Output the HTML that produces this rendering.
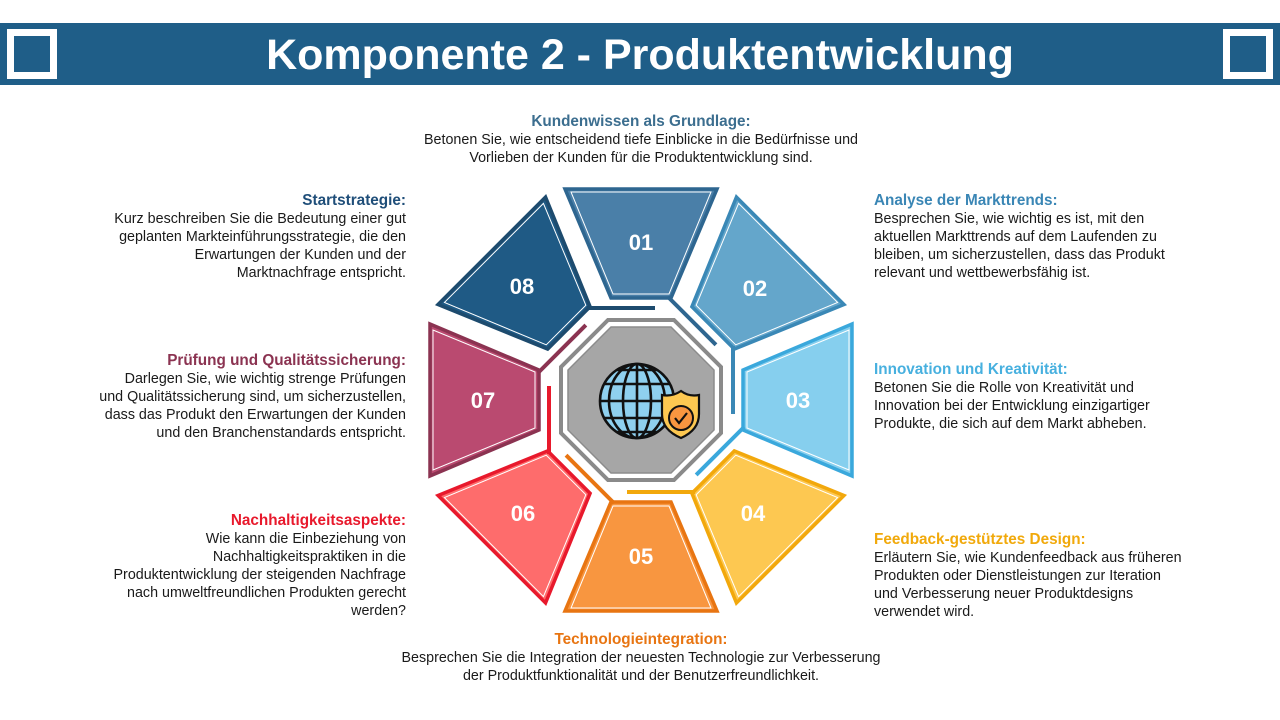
<!DOCTYPE html>
<html><head><meta charset="utf-8"><style>
body{margin:0;width:1280px;height:720px;background:#fff;position:relative;overflow:hidden;font-family:"Liberation Sans",sans-serif;}
.hdr{position:absolute;left:0;top:23px;width:1280px;height:62px;background:#1f5e88;}
.sq{position:absolute;top:29px;width:36px;height:36px;border:7px solid #fff;background:#1f5e88;}
.title{position:absolute;left:0;top:23px;width:1280px;height:62px;line-height:64px;text-align:center;color:#fff;font-weight:bold;font-size:43px;}
.t{position:absolute;font-size:14.3px;line-height:18px;color:#1a1a1a;white-space:nowrap;}
.t b{display:block;font-size:15.3px;}
.r{text-align:right;}
.c{text-align:center;}
</style></head><body>
<div class="hdr"></div>
<div class="sq" style="left:7px"></div>
<div class="sq" style="left:1223px"></div>
<div class="title">Komponente 2 - Produktentwicklung</div>

<svg width="1280" height="720" style="position:absolute;left:0;top:0">
<g transform="translate(641,400)" stroke-linejoin="miter">
<g transform="rotate(0)"><polygon points="-76,-211 76,-211 30,-102 -30,-102" fill="#4a7fa8" stroke="#2e6690" stroke-width="3.5"/><polygon points="-70,-208 70,-208 28,-106 -28,-106" fill="none" stroke="#fff" stroke-width="1"/><line x1="-54" y1="-92" x2="14" y2="-92" transform="rotate(45)" stroke="#2e6690" stroke-width="4"/></g>
<g transform="rotate(45)"><polygon points="-76,-211 76,-211 30,-102 -30,-102" fill="#64a6cb" stroke="#3a88b6" stroke-width="3.5"/><polygon points="-70,-208 70,-208 28,-106 -28,-106" fill="none" stroke="#fff" stroke-width="1"/><line x1="-54" y1="-92" x2="14" y2="-92" transform="rotate(45)" stroke="#3a88b6" stroke-width="4"/></g>
<g transform="rotate(90)"><polygon points="-76,-211 76,-211 30,-102 -30,-102" fill="#86cfee" stroke="#3aa8dc" stroke-width="3.5"/><polygon points="-70,-208 70,-208 28,-106 -28,-106" fill="none" stroke="#fff" stroke-width="1"/><line x1="-54" y1="-92" x2="14" y2="-92" transform="rotate(45)" stroke="#3aa8dc" stroke-width="4"/></g>
<g transform="rotate(135)"><polygon points="-76,-211 76,-211 30,-102 -30,-102" fill="#fdc851" stroke="#f2a80c" stroke-width="3.5"/><polygon points="-70,-208 70,-208 28,-106 -28,-106" fill="none" stroke="#fff" stroke-width="1"/><line x1="-54" y1="-92" x2="14" y2="-92" transform="rotate(45)" stroke="#f2a80c" stroke-width="4"/></g>
<g transform="rotate(180)"><polygon points="-76,-211 76,-211 30,-102 -30,-102" fill="#f89640" stroke="#e87512" stroke-width="3.5"/><polygon points="-70,-208 70,-208 28,-106 -28,-106" fill="none" stroke="#fff" stroke-width="1"/><line x1="-54" y1="-92" x2="14" y2="-92" transform="rotate(45)" stroke="#e87512" stroke-width="4"/></g>
<g transform="rotate(225)"><polygon points="-76,-211 76,-211 30,-102 -30,-102" fill="#fe6c6c" stroke="#e8192c" stroke-width="3.5"/><polygon points="-70,-208 70,-208 28,-106 -28,-106" fill="none" stroke="#fff" stroke-width="1"/><line x1="-54" y1="-92" x2="14" y2="-92" transform="rotate(45)" stroke="#e8192c" stroke-width="4"/></g>
<g transform="rotate(270)"><polygon points="-76,-211 76,-211 30,-102 -30,-102" fill="#ba4a70" stroke="#8b3351" stroke-width="3.5"/><polygon points="-70,-208 70,-208 28,-106 -28,-106" fill="none" stroke="#fff" stroke-width="1"/><line x1="-54" y1="-92" x2="14" y2="-92" transform="rotate(45)" stroke="#8b3351" stroke-width="4"/></g>
<g transform="rotate(315)"><polygon points="-76,-211 76,-211 30,-102 -30,-102" fill="#1f5a85" stroke="#1d4b6e" stroke-width="3.5"/><polygon points="-70,-208 70,-208 28,-106 -28,-106" fill="none" stroke="#fff" stroke-width="1"/><line x1="-54" y1="-92" x2="14" y2="-92" transform="rotate(45)" stroke="#1d4b6e" stroke-width="4"/></g>
<polygon points="-33,-80 33,-80 80,-33 80,33 33,80 -33,80 -80,33 -80,-33" fill="#fff" stroke="#8a8a8a" stroke-width="4"/>
<polygon points="-30,-73 30,-73 73,-30 73,30 30,73 -30,73 -73,30 -73,-30" fill="#a6a6a6" stroke="#8c8c8c" stroke-width="1.5"/>
<g transform="translate(-4,1)" stroke="#111" stroke-width="2.6" fill="none">
<circle r="37" fill="#8fd0ef"/>
<ellipse rx="14" ry="37"/>
<ellipse rx="28" ry="37"/>
<line x1="0" y1="-37" x2="0" y2="37"/>
<line x1="-37" y1="0" x2="37" y2="0"/>
<line x1="-33" y1="-17" x2="33" y2="-17"/>
<line x1="-33" y1="17" x2="33" y2="17"/>
<line x1="-20" y1="-31" x2="20" y2="-31"/>
<line x1="-20" y1="31" x2="20" y2="31"/>
</g>
<path d="M21,-5 Q31,-3 40,-9 Q48,-3 58,-5 L58,14 Q58,30 40,38 Q21,30 21,14 Z" fill="#fdc851" stroke="#111" stroke-width="2.2"/>
<circle cx="40" cy="18" r="12" fill="#f89640" stroke="#111" stroke-width="2"/>
<path d="M34,18 L38,23 L46,13" fill="none" stroke="#111" stroke-width="2.2"/>
</g>
<g font-family="Liberation Sans, sans-serif" font-weight="bold" font-size="22" fill="#fff" text-anchor="middle">
<text x="641" y="250">01</text>
<text x="755" y="296">02</text>
<text x="798" y="408">03</text>
<text x="753" y="521">04</text>
<text x="641" y="564">05</text>
<text x="523" y="521">06</text>
<text x="483" y="408">07</text>
<text x="522" y="294">08</text>
</g>
</svg>

<div class="t c" style="left:291px;width:700px;top:113px"><b style="color:#3c6e8f">Kundenwissen als Grundlage:</b>Betonen Sie, wie entscheidend tiefe Einblicke in die Bedürfnisse und<br>Vorlieben der Kunden für die Produktentwicklung sind.</div>
<div class="t r" style="right:874px;top:192px"><b style="color:#1f4e79">Startstrategie:</b>Kurz beschreiben Sie die Bedeutung einer gut<br>geplanten Markteinführungsstrategie, die den<br>Erwartungen der Kunden und der<br>Marktnachfrage entspricht.</div>
<div class="t" style="left:874px;top:192px"><b style="color:#3a86b5">Analyse der Markttrends:</b>Besprechen Sie, wie wichtig es ist, mit den<br>aktuellen Markttrends auf dem Laufenden zu<br>bleiben, um sicherzustellen, dass das Produkt<br>relevant und wettbewerbsfähig ist.</div>
<div class="t r" style="right:874px;top:352px"><b style="color:#8b3351">Prüfung und Qualitätssicherung:</b>Darlegen Sie, wie wichtig strenge Prüfungen<br>und Qualitätssicherung sind, um sicherzustellen,<br>dass das Produkt den Erwartungen der Kunden<br>und den Branchenstandards entspricht.</div>
<div class="t" style="left:874px;top:361px"><b style="color:#47b0df">Innovation und Kreativität:</b>Betonen Sie die Rolle von Kreativität und<br>Innovation bei der Entwicklung einzigartiger<br>Produkte, die sich auf dem Markt abheben.</div>
<div class="t r" style="right:874px;top:512px"><b style="color:#e8192c">Nachhaltigkeitsaspekte:</b>Wie kann die Einbeziehung von<br>Nachhaltigkeitspraktiken in die<br>Produktentwicklung der steigenden Nachfrage<br>nach umweltfreundlichen Produkten gerecht<br>werden?</div>
<div class="t" style="left:874px;top:531px"><b style="color:#f1a90b">Feedback-gestütztes Design:</b>Erläutern Sie, wie Kundenfeedback aus früheren<br>Produkten oder Dienstleistungen zur Iteration<br>und Verbesserung neuer Produktdesigns<br>verwendet wird.</div>
<div class="t c" style="left:241px;width:800px;top:631px"><b style="color:#e87512">Technologieintegration:</b>Besprechen Sie die Integration der neuesten Technologie zur Verbesserung<br>der Produktfunktionalität und der Benutzerfreundlichkeit.</div>
</body></html>
